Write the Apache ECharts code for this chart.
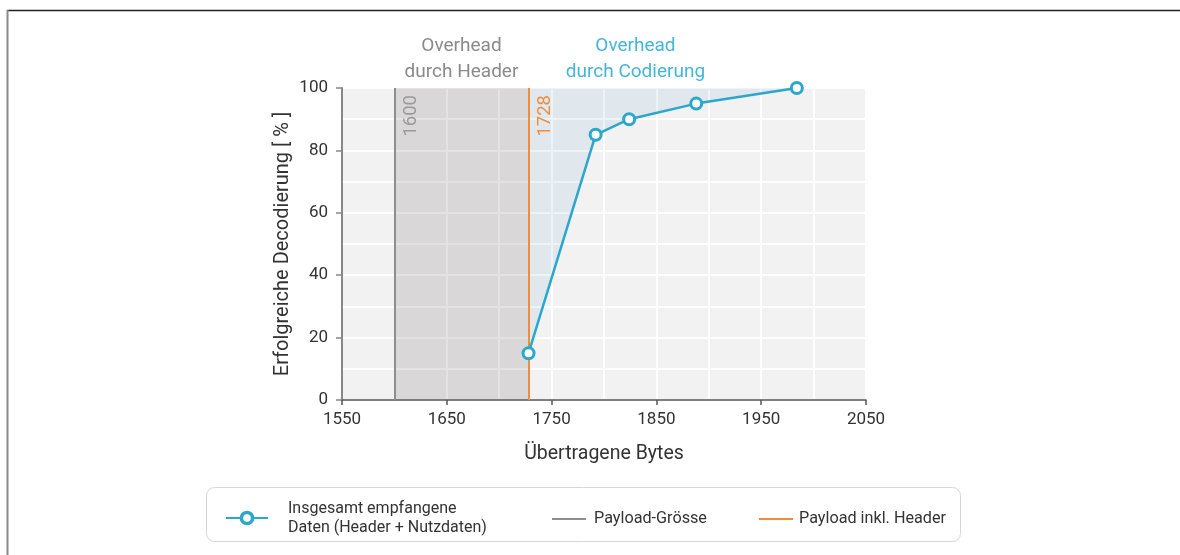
<!DOCTYPE html>
<html><head><meta charset="utf-8">
<script src="https://cdn.jsdelivr.net/npm/echarts@6/dist/echarts.min.js"></script>
<style>html,body{margin:0;padding:0;background:#fff}#c{width:1180px;height:555px}</style>
</head><body><div id="c"></div>
<script>
const bytes = [1728, 1792, 1824, 1888, 1984];
const decodePct = [15, 85, 90, 95, 100];
const payloadSize = 1600;
const payloadWithHeader = 1728;
const xTicks = [1550, 1650, 1750, 1850, 1950, 2050];
const yTicks = [0, 20, 40, 60, 80, 100];
const seriesNames = ['Insgesamt empfangene\nDaten (Header + Nutzdaten)', 'Payload-Grösse', 'Payload inkl. Header'];
const overheadLabels = ['Overhead\ndurch Header', 'Overhead\ndurch Codierung'];
const codingLabelX = 1830;

const FONT = 'Roboto';
const BLUE = '#2ba7cc', GRAY = '#8e8e8e', ORANGE = '#f08c3c';

const chart = echarts.init(document.getElementById('c'), null, {renderer: 'canvas'});
const points = bytes.map((b, i) => [b, decodePct[i]]);

const option = {
  backgroundColor: '#fff',
  animation: false,
  textStyle: {fontFamily: FONT},
  grid: {left: 342, right: 314, top: 88, bottom: 155, show: true, backgroundColor: '#f2f2f2', borderWidth: 0},
  xAxis: {
    type: 'value', min: xTicks[0], max: xTicks[xTicks.length - 1], interval: 100,
    name: 'Übertragene Bytes', nameLocation: 'middle', nameGap: 44,
    nameTextStyle: {fontSize: 19.5, color: '#333', fontFamily: FONT},
    axisLine: {show: true, lineStyle: {color: '#555', width: 1.5}},
    axisTick: {show: true, length: 5, lineStyle: {color: '#555', width: 1.5}},
    axisLabel: {fontSize: 17, color: '#333', margin: 11, fontFamily: FONT, formatter: v => String(v)},
    splitLine: {show: true, lineStyle: {color: '#fff', width: 2}},
    minorTick: {show: false, splitNumber: 2},
    minorSplitLine: {show: true, lineStyle: {color: '#fff', width: 2}}
  },
  yAxis: {
    type: 'value', min: yTicks[0], max: yTicks[yTicks.length - 1], interval: 20,
    name: 'Erfolgreiche Decodierung [ % ]', nameLocation: 'middle', nameGap: 49,
    nameTextStyle: {fontSize: 20, color: '#333', fontFamily: FONT},
    axisLine: {show: true, lineStyle: {color: '#888', width: 2}},
    axisTick: {show: true, length: 6, lineStyle: {color: '#888', width: 1.5}},
    axisLabel: {fontSize: 17, color: '#333', margin: 14, fontFamily: FONT, formatter: v => String(v)},
    splitLine: {show: true, lineStyle: {color: '#fff', width: 2}},
    minorTick: {show: false, splitNumber: 2},
    minorSplitLine: {show: true, lineStyle: {color: '#fff', width: 2}}
  },
  legend: [
    {data: [seriesNames[0]], left: 220, top: 494, itemWidth: 42, itemHeight: 14,
     itemStyle: {color: '#fff', borderColor: BLUE, borderWidth: 3.5},
     textStyle: {fontSize: 16, color: '#333', lineHeight: 19, padding: [0, 0, 0, 15], fontFamily: FONT}},
    {data: [{name: seriesNames[1], icon: 'rect'}], left: 547, top: 506, itemWidth: 34, itemHeight: 2,
     textStyle: {fontSize: 16.2, color: '#333', padding: [0, 0, 0, 3], fontFamily: FONT}},
    {data: [{name: seriesNames[2], icon: 'rect'}], left: 754, top: 506, itemWidth: 34, itemHeight: 2,
     textStyle: {fontSize: 16.2, color: '#333', padding: [0, 0, 0, 1], fontFamily: FONT}}
  ],
  series: [
    {
      name: 'coding-area', type: 'line', data: points, symbol: 'none', silent: true,
      lineStyle: {width: 0}, areaStyle: {origin: 'end', color: 'rgba(100,170,210,0.18)'}, z: 1
    },
    {
      name: seriesNames[1], type: 'line', data: [], symbol: 'none', z: 3,
      lineStyle: {color: GRAY, width: 2}, itemStyle: {color: GRAY},
      markArea: {
        silent: true,
        itemStyle: {color: 'rgba(120,110,115,0.2)'},
        label: {show: true, position: 'top', distance: 3, color: '#8a8a8a', fontSize: 19, lineHeight: 26, fontFamily: FONT},
        data: [[{xAxis: payloadSize, name: overheadLabels[0]}, {xAxis: payloadWithHeader}]]
      },
      markLine: {
        silent: true, symbol: 'none', animation: false,
        lineStyle: {color: GRAY, width: 2, type: 'solid'},
        label: {show: true, formatter: String(payloadSize), position: 'insideEndBottom', color: '#9a9a9a', fontSize: 18.5, distance: 7, fontFamily: FONT},
        data: [{xAxis: payloadSize}]
      }
    },
    {
      name: seriesNames[2], type: 'line', data: [], symbol: 'none', z: 4,
      lineStyle: {color: ORANGE, width: 2}, itemStyle: {color: ORANGE},
      markLine: {
        silent: true, symbol: 'none', animation: false,
        lineStyle: {color: ORANGE, width: 2, type: 'solid'},
        label: {show: true, formatter: String(payloadWithHeader), position: 'insideEndBottom', color: ORANGE, fontSize: 18.5, distance: 7, fontFamily: FONT},
        data: [{xAxis: payloadWithHeader}]
      }
    },
    {
      name: seriesNames[0], type: 'line', data: points, z: 5,
      symbol: 'circle', symbolSize: 11, showSymbol: true,
      lineStyle: {color: BLUE, width: 2.5},
      itemStyle: {color: '#fff', borderColor: BLUE, borderWidth: 3}
    }
  ]
};
chart.setOption(option);

const pos = chart.convertToPixel({gridIndex: 0}, [codingLabelX, 100]);
chart.setOption({
  graphic: [
    {type: 'line', shape: {x1: 7, y1: 10.5, x2: 1180, y2: 10.5}, style: {stroke: '#222', lineWidth: 1.5}, silent: true},
    {type: 'line', shape: {x1: 7.5, y1: 10, x2: 7.5, y2: 555}, style: {stroke: '#8a8a8a', lineWidth: 2}, silent: true},
    {type: 'rect', shape: {x: 206.5, y: 487.5, width: 754, height: 54, r: 8}, style: {fill: 'none', stroke: '#d6d6d6', lineWidth: 1}, silent: true},
    {type: 'text', x: pos[0], y: pos[1] - 3, silent: true,
     style: {text: overheadLabels[1], fill: '#45b5d8', fontSize: 19, lineHeight: 26, align: 'center', verticalAlign: 'bottom', fontFamily: FONT}}
  ]
});
</script></body></html>
